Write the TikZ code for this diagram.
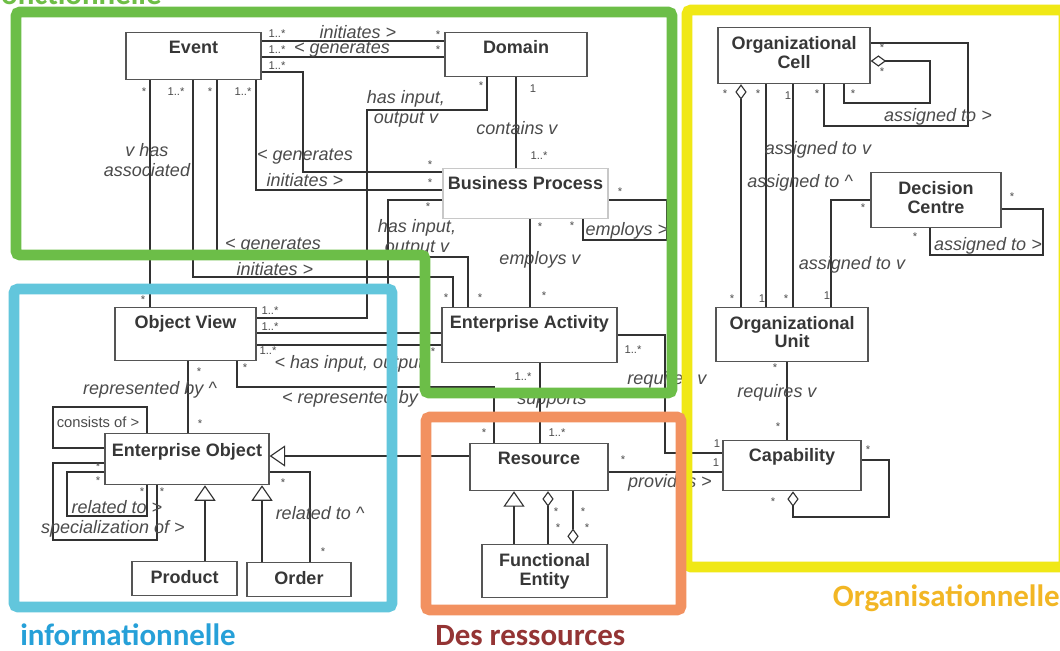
\documentclass[tikz,border=0pt]{standalone}
\usepackage{fontspec}
\setmainfont{Liberation Sans}
\newfontfamily\zonefont{Carlito}
\usetikzlibrary{calc,arrows.meta}

\definecolor{boxgray}{RGB}{85,85,85}
\definecolor{boxlight}{RGB}{200,200,200}
\definecolor{linegray}{RGB}{50,50,50}
\definecolor{titlegray}{RGB}{55,55,55}
\definecolor{lblgray}{RGB}{75,75,75}
\definecolor{zonegreen}{RGB}{108,190,72}
\definecolor{zonecyan}{RGB}{98,198,220}
\definecolor{zoneorange}{RGB}{242,145,96}
\definecolor{zoneyellow}{RGB}{240,232,22}
\definecolor{infocol}{RGB}{38,160,216}
\definecolor{rescol}{RGB}{148,52,52}
\definecolor{orgcol}{RGB}{242,182,36}
\definecolor{fonccol}{RGB}{110,190,70}

\tikzset{
	cls/.style={draw=boxgray, line width=0.9pt, fill=white, anchor=north, inner sep=0pt, align=center,
		font=\fontsize{12.8}{13.5}\selectfont\bfseries, text=titlegray, text height=15pt},
	assoc/.style={draw=linegray, line width=0.8pt},
	gen/.style={assoc, -{Triangle[open, length=11pt, width=15pt]}},
	agg/.style={assoc, {Diamond[open, length=11pt, width=8pt]}-},
	rel/.style={font=\fontsize{12.8}{14}\selectfont\itshape, text=lblgray, inner sep=0pt, align=center},
	mult/.style={font=\fontsize{8}{9}\selectfont, text=lblgray, inner sep=0pt},
	plainlbl/.style={font=\fontsize{10.5}{12}\selectfont, text=lblgray, inner sep=0pt},
	zone/.style={line width=7.8pt, rounded corners=3pt},
	zonelbl/.style={font=\zonefont\fontsize{22}{24}\selectfont\bfseries, inner sep=0pt},
}

\begin{document}
\begin{tikzpicture}[x=0.025cm, y=-0.025cm]
	\useasboundingbox (0,0) rectangle (1060,651);
	\clip (0,0) rectangle (1060,651);
	\fill[white] (0,0) rectangle (1060,651);

	\node[cls, minimum width=3.375cm, text depth=18.4pt] (event) at (193.5,32) {Event};
	\node[cls, minimum width=3.55cm, text depth=16.3pt] (domain) at (516,32) {Domain};
	\node[cls, draw=boxlight, minimum width=4.125cm, text depth=20.6pt] (bp) at (525.5,168) {Business Process};
	\node[cls, minimum width=4.375cm, text depth=24.1pt] (ea) at (529.5,307) {Enterprise Activity};
	\node[cls, minimum width=3.525cm, text depth=22.7pt] (ov) at (185.5,307) {Object View};
	\node[cls, minimum width=4.1cm, text height=16.4pt, text depth=19.9pt] (eo) at (187,433) {Enterprise Object};
	\node[cls, minimum width=2.625cm, text height=15.9pt, text depth=8.3pt] (product) at (184.5,561) {Product};
	\node[cls, minimum width=2.6cm, text height=15.9pt, text depth=8.3pt] (order) at (299,562) {Order};
	\node[cls, minimum width=3.45cm, text depth=18.4pt] (resource) at (539,443) {Resource};
	\node[cls, minimum width=3.125cm, text height=29.4pt, text depth=8.3pt] (fe) at (544.5,544) {Functional\\Entity};
	\node[cls, minimum width=3.45cm, text depth=20.6pt] (capability) at (792,440) {Capability};
	\node[cls, minimum width=3.8cm, text height=28.7pt, text depth=9.7pt] (ou) at (792,307) {Organizational\\Unit};
	\node[cls, minimum width=3.8cm, text height=29.4pt, text depth=10.4pt] (oc) at (794,27) {Organizational\\Cell};
	\node[cls, minimum width=3.25cm, text height=29.4pt, text depth=9.7pt] (dc) at (936,172) {Decision\\Centre};
	\coordinate (bpjoin) at (388,333);

	\draw[assoc] (event.east |- 0,41) -- (domain.west |- 0,41);
	\draw[assoc] (event.east |- 0,57) -- (domain.west |- 0,57);
	\draw[assoc] (event.east |- 0,72) -| (303,172) -- (bp.west |- 0,172);
	\draw[assoc] (event.south -| 256,0) |- (bp.west |- 0,190);
	\draw[assoc] (event.south -| 150,0) -- (ov.north -| 150,0);
	\draw[assoc] (event.south -| 193,0) |- (453,277) -- (ea.north -| 453,0);
	\draw[assoc] (event.south -| 217,0) |- (468,257) -- (ea.north -| 468,0);
	\draw[assoc] (domain.south -| 487,0) |- (367,110) |- (ov.east |- 0,318);
	\draw[assoc] (domain.south -| 516,0) -- (bp.north -| 516,0);
	\draw[assoc] (bp.west |- 0,200) -| (bpjoin) -- (ov.east |- bpjoin);
	\draw[assoc] (ea.west |- bpjoin) -- (bpjoin);
	\draw[assoc] (bp.south -| 530,0) -- (ea.north -| 530,0);
	\draw[assoc] (bp.south -| 583,0) |- (667,240) |- (bp.east |- 0,200);
	\draw[assoc] (ea.west |- 0,345) -- (ov.east |- 0,345);
	\draw[assoc] (ea.east |- 0,335) -| (665,453) -- (capability.west |- 0,453);
	\draw[assoc] (ea.south -| 540,0) -- (resource.north -| 540,0);
	\draw[assoc] (ov.south -| 237,0) |- (494,387) -- (resource.north -| 494,0);
	\draw[assoc] (ov.south -| 188,0) -- (eo.north -| 188,0);
	\draw[gen] (resource.west |- 0,456) -- (eo.east |- 0,456);
	\draw[assoc] (resource.east |- 0,472) -- (capability.west |- 0,472);
	\draw[assoc] (eo.west |- 0,448) -| (53,407) -| (eo.north -| 147,0);
	\draw[assoc] (eo.west |- 0,472) -| (67,516) -| (eo.south -| 147,0);
	\draw[assoc] (eo.west |- 0,463) -| (53,540) -| (eo.south -| 157,0);
	\draw[gen] (product.north -| 205,0) -- (eo.south -| 205,0);
	\draw[gen] (order.north -| 262,0) -- (eo.south -| 262,0);
	\draw[assoc] (order.north -| 310,0) |- (eo.east |- 0,472);
	\draw[gen] (fe.north -| 514,0) -- (resource.south -| 514,0);
	\draw[agg] (resource.south -| 548,0) -- (fe.north -| 548,0);
	\draw[agg] (fe.north -| 573,0) -- (resource.south -| 573,0);
	\draw[agg] (oc.south -| 741,0) -- (ou.north -| 741,0);
	\draw[assoc] (oc.south -| 766,0) -- (ou.north -| 766,0);
	\draw[assoc] (oc.south -| 793,0) -- (ou.north -| 793,0);
	\draw[assoc] (ou.north -| 831,0) |- (dc.west |- 0,200);
	\draw[assoc] (dc.east |- 0,209) -| (1043,255) -| (dc.south -| 930,0);
	\draw[assoc] (oc.east |- 0,43) -| (968,126) -| (oc.south -| 824,0);
	\draw[agg] (oc.east |- 0,61) -| (930,103) -| (oc.south -| 844,0);
	\draw[assoc] (ou.south -| 787,0) -- (capability.north -| 787,0);
	\draw[agg] (capability.south -| 793,0) |- (889,517) |- (capability.east |- 0,460);

	\node[mult] (m1a) at (277,34) {1..*};
	\node[rel] (l1) at (358,32) {initiates >};
	\node[mult] (m1b) at (438,35) {*};
	\node[mult] (m2a) at (277,50) {1..*};
	\node[rel] (l2) at (342,49.5) {< generates};
	\node[mult] (m2b) at (438,50) {*};
	\node[mult] (m3a) at (277,66) {1..*};
	\node[mult] (m3b) at (430,165) {*};
	\node[rel] (l3) at (305,157) {< generates};
	\node[mult] (m4a) at (243,92) {1..*};
	\node[mult] (m4b) at (430,183) {*};
	\node[rel] (l4) at (305,180) {initiates >};
	\node[mult] (m5a) at (144,92) {*};
	\node[mult] (m5b) at (143,300) {*};
	\node[rel] (l5) at (147,160) {v has\\associated};
	\node[mult] (m6a) at (176,92) {1..*};
	\node[mult] (m6b) at (446,298) {*};
	\node[rel] (l6) at (275,269) {initiates >};
	\node[mult] (m7a) at (210,92) {*};
	\node[mult] (m7b) at (480,298) {*};
	\node[rel] (l7) at (273,246) {< generates};
	\node[mult] (m8a) at (481,86) {*};
	\node[mult] (m8b) at (270,311) {1..*};
	\node[rel] (l8) at (406,109) {has input,\\output v};
	\node[mult] (m9a) at (533,89) {1};
	\node[mult] (m9b) at (539,156) {1..*};
	\node[rel] (l9) at (517,128) {contains v};
	\node[mult] (m10a) at (428,207) {*};
	\node[mult] (m10b) at (270,327) {1..*};
	\node[rel] (l10) at (417,238) {has input,\\output v};
	\node[mult] (m11a) at (540,227) {*};
	\node[mult] (m11b) at (544,296) {*};
	\node[rel] (l11) at (540,260) {employs v};
	\node[mult] (m12a) at (572,226) {*};
	\node[mult] (m12b) at (620,192) {*};
	\node[rel] (l12) at (627,231) {employs >};
	\node[mult] (m13a) at (433,352) {*};
	\node[mult] (m13b) at (268,351) {1..*};
	\node[rel] (l13) at (349,364) {< has input, output};
	\node[mult] (m14a) at (633,350) {1..*};
	\node[mult] (m14b) at (717,444) {1};
	\node[rel] (l14) at (667,380) {requires v};
	\node[mult] (m15a) at (523,377) {1..*};
	\node[mult] (m15b) at (557,433) {1..*};
	\node[rel] (l15) at (552,401) {supports};
	\node[mult] (m16a) at (245,368) {*};
	\node[mult] (m16b) at (484,433) {*};
	\node[rel] (l16) at (350,399) {< represented by};
	\node[mult] (m17a) at (199,372) {*};
	\node[mult] (m17b) at (200,424) {*};
	\node[rel] (l17) at (150,390) {represented by \textasciicircum};
	\node[mult] (m19a) at (623,460) {*};
	\node[mult] (m19b) at (716,463) {1};
	\node[rel] (l19) at (670,483) {provides >};
	\node[plainlbl] (l20) at (98,422) {consists of >};
	\node[mult] (m21a) at (98,467) {*};
	\node[mult] (m21b) at (98,481) {*};
	\node[mult] (m22a) at (142,492) {*};
	\node[mult] (m22b) at (162,492) {*};
	\node[rel] (l21) at (117,507) {related to >};
	\node[rel] (l22) at (113,529) {specialization of >};
	\node[mult] (m25a) at (283,483) {*};
	\node[mult] (m25b) at (323,552) {*};
	\node[rel] (l25) at (320,513) {related to \textasciicircum};
	\node[mult] (m27a) at (556,512) {*};
	\node[mult] (m27b) at (558,528) {*};
	\node[mult] (m28a) at (583,512) {*};
	\node[mult] (m28b) at (587,528) {*};
	\node[mult] (m29a) at (725,94) {*};
	\node[mult] (m29b) at (732,299) {*};
	\node[mult] (m30a) at (758,94) {*};
	\node[mult] (m30b) at (762,299) {1};
	\node[rel] (l30) at (818,150) {assigned to v};
	\node[mult] (m31a) at (788,96) {1};
	\node[mult] (m31b) at (786,299) {*};
	\node[rel] (l31) at (800,183) {assigned to \textasciicircum};
	\node[mult] (m32a) at (827,296) {1};
	\node[mult] (m32b) at (863,208) {*};
	\node[rel] (l32) at (852,265) {assigned to v};
	\node[mult] (m33a) at (1012,197) {*};
	\node[mult] (m33b) at (915,237) {*};
	\node[rel] (l33) at (988,246) {assigned to >};
	\node[mult] (m34a) at (882,48) {*};
	\node[mult] (m34b) at (817,94) {*};
	\node[rel] (l34) at (938,117) {assigned to >};
	\node[mult] (m35a) at (882,72) {*};
	\node[mult] (m35b) at (853,94) {*};
	\node[mult] (m36a) at (775,368) {*};
	\node[mult] (m36b) at (778,427) {*};
	\node[rel] (l36) at (777,393) {requires v};
	\node[mult] (m37a) at (868,450) {*};
	\node[mult] (m37b) at (773,502) {*};

	\draw[zone, draw=zoneyellow] (687,10) rectangle (1064,567);
	\draw[zone, draw=zonegreen] (16,12) -- (672,12) -- (672,393) -- (425,393) -- (425,255) -- (16,255) -- cycle;
	\draw[zone, draw=zonecyan] (14,289) rectangle (392,607);
	\draw[zone, draw=zoneorange] (426,417) rectangle (681,610);

	\node[zonelbl, text=fonccol, anchor=base west] (zfonc) at (-13,4) {Fonctionnelle};
	\node[zonelbl, text=infocol, anchor=base west] (zinfo) at (20,645) {informationnelle};
	\node[zonelbl, text=rescol, anchor=base west] (zres) at (435,645) {Des ressources};
	\node[zonelbl, text=orgcol, anchor=base east] (zorg) at (1060,606) {Organisationnelle};
\end{tikzpicture}
\end{document}
